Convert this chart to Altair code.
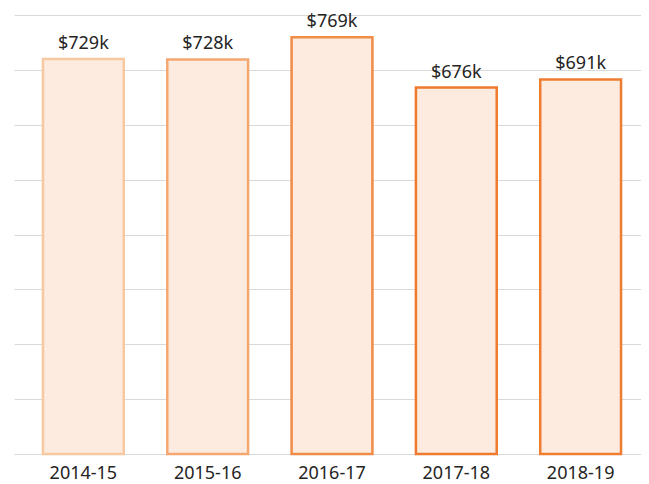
import altair as alt
import pandas as pd

years = ["2014-15", "2015-16", "2016-17", "2017-18", "2018-19"]
values = [729, 728, 769, 676, 691]
labels = ["$729k", "$728k", "$769k", "$676k", "$691k"]
strokes = ["#F8C8A0", "#F4A870", "#F08C45", "#EE7A2F", "#ED7D31"]

df = pd.DataFrame({"year": years, "value": values, "label": labels, "stroke": strokes})

grid_vals = [i * 101.25 for i in range(9)]

x = alt.X("year:N", sort=years, title=None,
          scale=alt.Scale(range=[0, 636], paddingInner=0.35, paddingOuter=0.233),
          axis=alt.Axis(labelAngle=0, ticks=False, domain=False, labelPadding=10,
                        labelFontSize=18, labelFont="Noto Sans", labelColor="#252423",
                        grid=False))
y = alt.Y("value:Q", title=None,
          scale=alt.Scale(domain=[0, 810], nice=False, zero=True),
          axis=alt.Axis(values=grid_vals, labels=False, ticks=False, domain=False,
                        grid=True, gridColor="#D9D9D9", gridWidth=1))

bars = alt.Chart(df).mark_bar(fill="#FCEBDE", strokeWidth=2.5).encode(
    x=x, y=y, stroke=alt.Stroke("stroke:N", scale=None)
)

text = alt.Chart(df).mark_text(dy=-10, baseline="alphabetic", fontSize=18,
                               font="Noto Sans", color="#252423").encode(
    x=alt.X("year:N", sort=years), y="value:Q", text="label:N"
)

chart = alt.layer(bars, text).properties(
    width=627, height=439,
    autosize=alt.AutoSizeParams(type="none"),
    padding={"left": 6, "top": 7, "right": 0, "bottom": 30},
).configure_view(stroke=None)

chart.save("out.html", embed_options={"renderer": "svg", "actions": False})
